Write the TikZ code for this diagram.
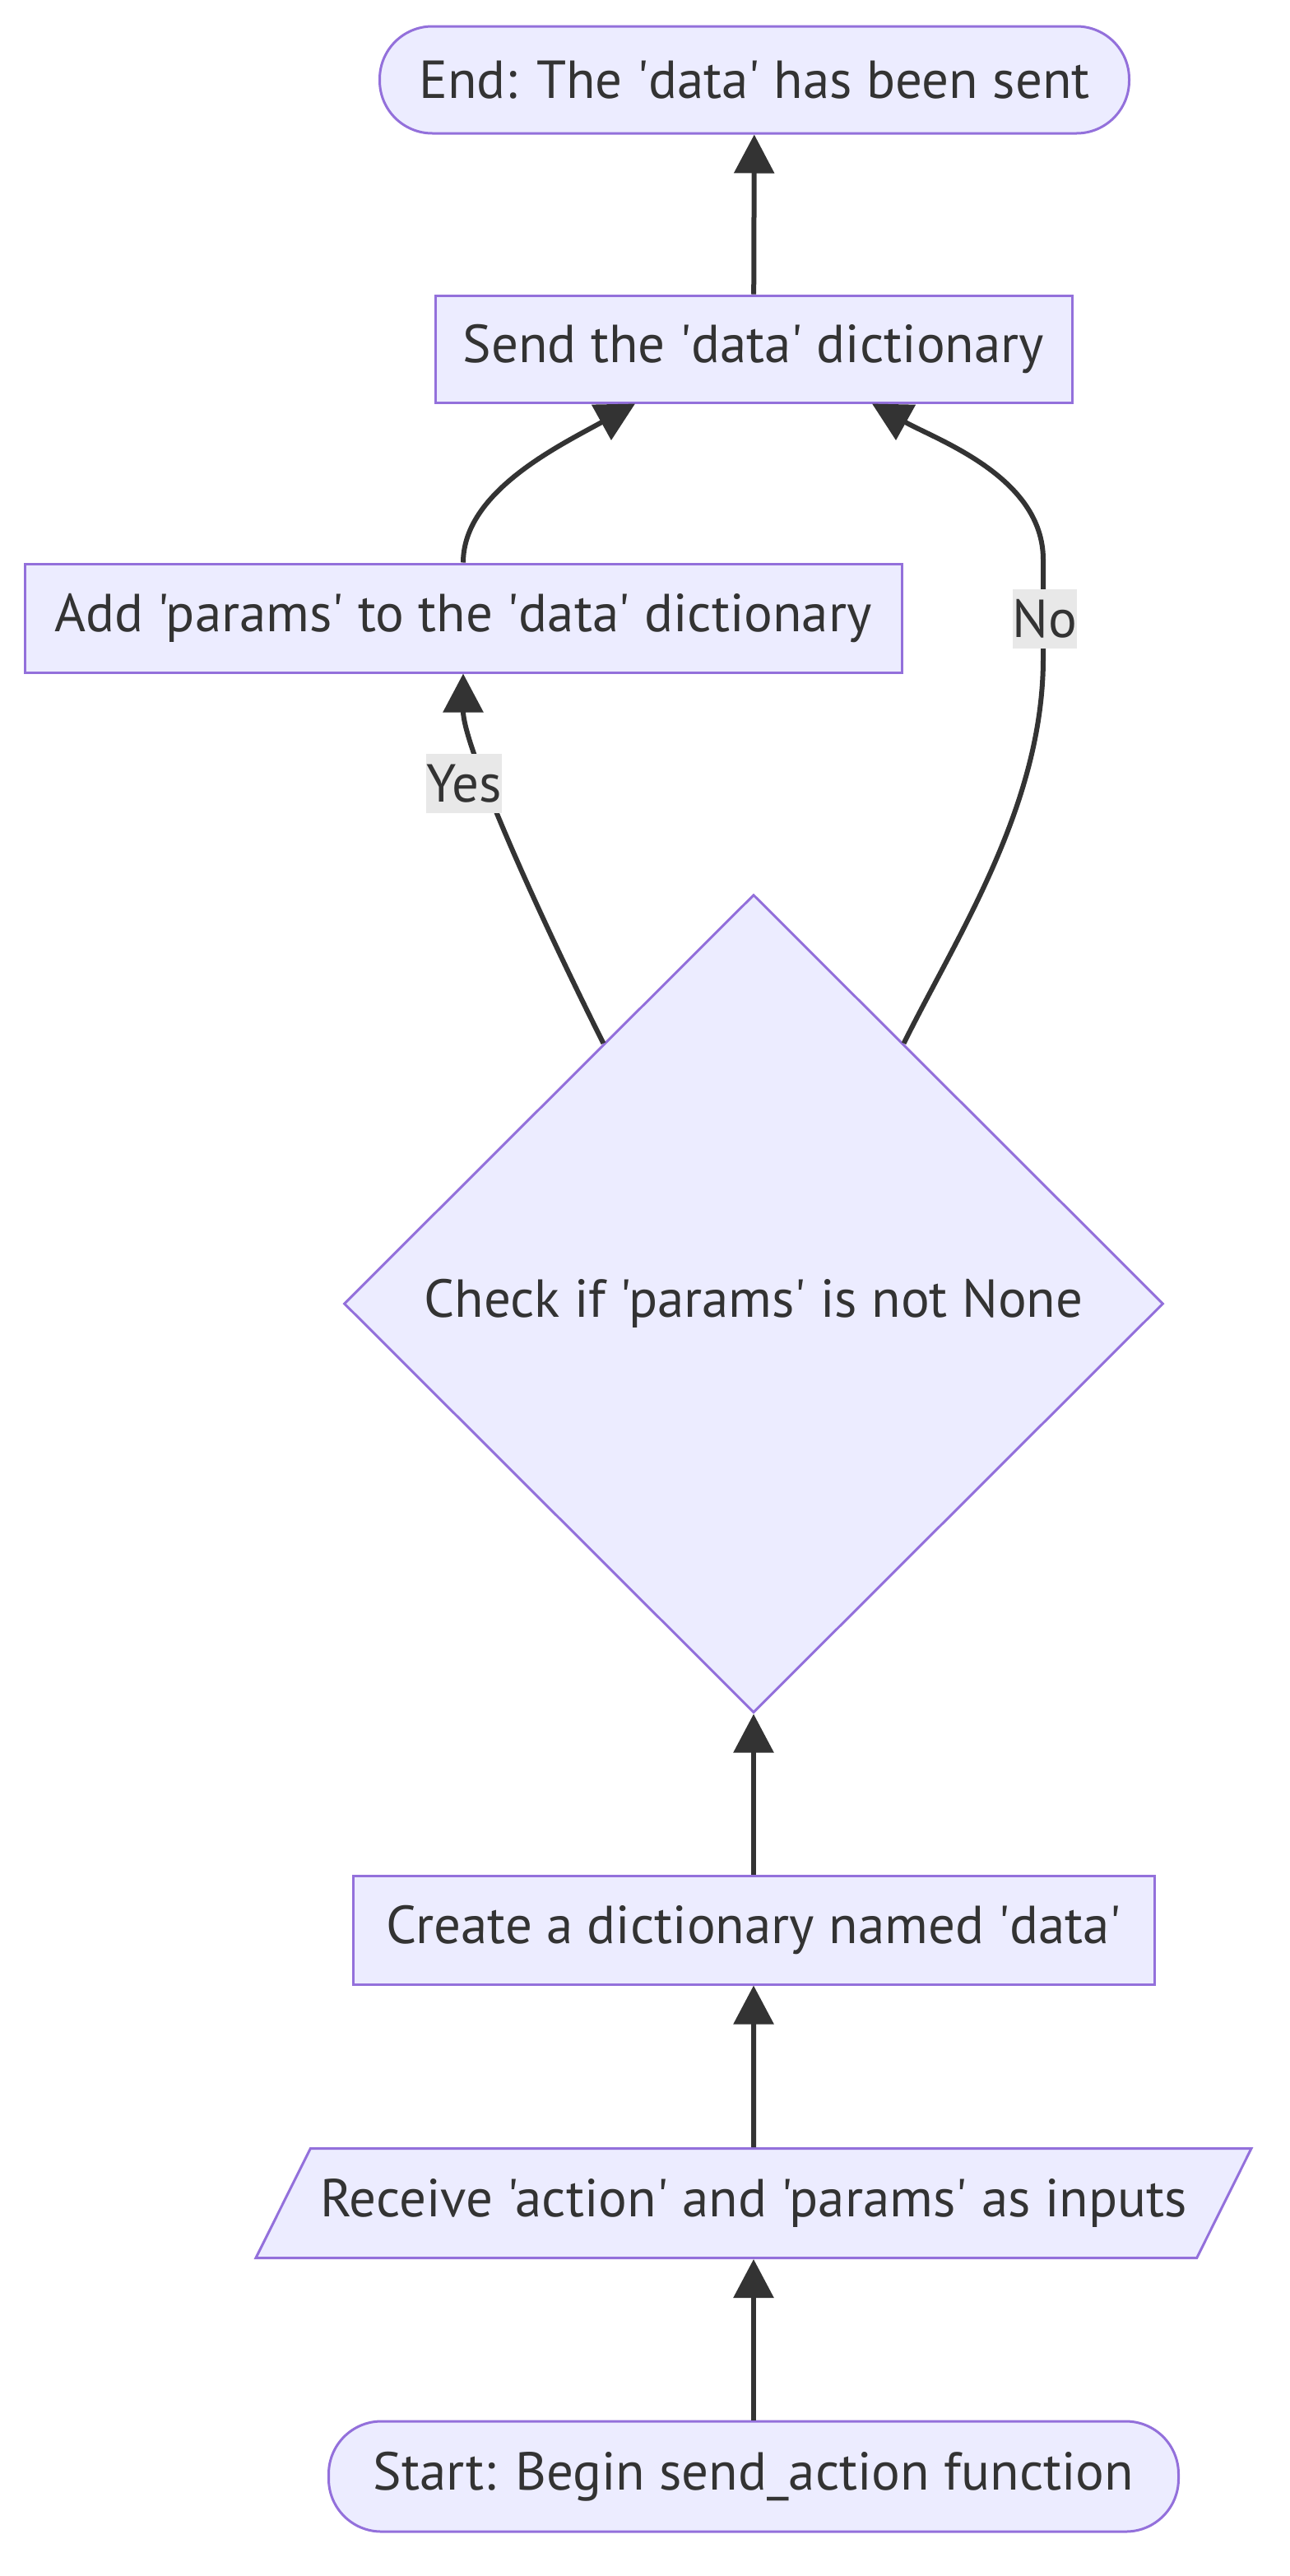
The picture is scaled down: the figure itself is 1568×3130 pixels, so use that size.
\documentclass[tikz,border=0pt]{standalone}
\usepackage{fontspec}
\newfontfamily\mmfont{PT Sans}
\definecolor{mmfill}{HTML}{ECECFF}
\definecolor{mmborder}{HTML}{9370DB}
\definecolor{mmline}{HTML}{333333}
\definecolor{mmlabel}{HTML}{E8E8E8}
\usetikzlibrary{arrows.meta,shapes.geometric}

\begin{document}
\begin{tikzpicture}[
  x=1pt, y=-1pt,
  every node/.style={font=\mmfont\fontsize{65}{78}\selectfont,text=mmline},
  procbox/.style={draw=mmborder,fill=mmfill,line width=3pt,inner sep=0pt,minimum height=130pt},
  termbox/.style={procbox,rounded corners=64pt},
  iobox/.style={draw=mmborder,fill=mmfill,line width=3pt,trapezium,
                trapezium left angle=63.5,trapezium right angle=116.5,
                trapezium stretches body=true,inner xsep=0pt,inner ysep=35pt,
                text height=48pt,text depth=15pt},
  decbox/.style={procbox,diamond,aspect=1},
  arr/.style={-{Triangle[length=47pt,width=48pt]},line width=6pt,mmline},
  lbl/.style={fill=mmlabel,inner sep=0pt,minimum height=72pt},
]
  \useasboundingbox (0,0) rectangle (1568,3130);

  % Terminals
  \node[termbox,minimum width=911pt] (finish) at (917,97) {End: The 'data' has been sent};
  \node[termbox,minimum width=1033pt,minimum height=134pt] (start) at (916,3009)
    {Start: Begin send\_action function};

  % Steps
  \node[procbox,minimum width=774pt] (send) at (916,424) {Send the 'data' dictionary};
  \node[procbox,minimum width=1066pt,minimum height=132pt] (addparams) at (563,751)
    {Add 'params' to the 'data' dictionary};
  \node[procbox,minimum width=974pt,minimum height=132pt] (create) at (916,2345)
    {Create a dictionary named 'data'};
  \node[iobox,minimum width=1210pt] (receive) at (916,2677)
    {Receive 'action' and 'params' as inputs};

  % Decision
  \node[decbox,minimum width=996pt,minimum height=994pt] (check) at (916,1584)
    {Check if 'params' is not None};

  % Arrows
  \draw[arr] (start) -- (receive);
  \draw[arr] (receive) -- (create);
  \draw[arr] (create) -- (check);
  \draw[arr] (check.120) .. controls +(-100,-200) and +(0,82) .. (addparams.south);
  \draw[arr] (check.60) .. controls +(63,-128) and (1268,980) .. (1268,800) -- (1268,680)
    .. controls (1268,580) and (1140,535) .. ([xshift=144pt]send.south);
  \draw[arr] (addparams.north) .. controls +(0,-86) and +(-92,51) .. ([xshift=-144pt]send.south);
  \draw[arr] (send) -- (finish);

  % Labels
  \node[lbl,minimum width=89pt] (yes) at (564,952) {Yes};
  \node[lbl,minimum width=74pt] (no) at (1270,752) {No};
\end{tikzpicture}
\end{document}
